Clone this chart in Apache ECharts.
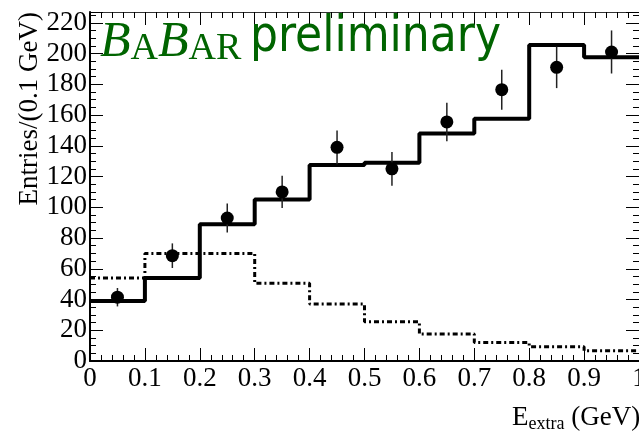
<!DOCTYPE html>
<html>
<head>
<meta charset="utf-8">
<script src="https://cdn.jsdelivr.net/npm/echarts@6/dist/echarts.min.js"></script>
<style>
  html, body { margin: 0; padding: 0; background: #fff; }
  #main { width: 639px; height: 435px; }
</style>
</head>
<body>
<div id="main"></div>
<script>
// bin edges of E_extra (GeV)
const binEdges = [0, 0.1, 0.2, 0.3, 0.4, 0.5, 0.6, 0.7, 0.8, 0.9, 1.0];
// total expectation (solid) and background (dash-dot), entries per bin
const mcTotal = [39, 54, 89, 105, 127.5, 129, 148, 157.5, 205.5, 197.5];
const mcBkg = [54, 70, 70, 50.5, 37, 25.5, 17.5, 12, 9.3, 6.7];
// data points
const dataX = [0.05, 0.15, 0.25, 0.35, 0.45, 0.55, 0.65, 0.75, 0.85, 0.95];
const dataY = [41.5, 68.5, 93, 110, 139, 125, 155.5, 176.5, 191, 201];
const dataErr = [6, 8, 9.5, 10.5, 11, 11, 12.5, 13, 13.5, 14];

const serif = 'Liberation Serif';

function stepData(vals) {
    return binEdges.map(function (e, i) {
        return [e, vals[Math.min(i, vals.length - 1)]];
    });
}

var chart = echarts.init(document.getElementById('main'));

var xBase = {
    type: 'value', min: 0, max: 1, interval: 0.1,
    splitLine: { show: false },
    axisTick: { inside: true, length: 13, lineStyle: { color: '#000', width: 1 } },
    minorTick: { show: true, splitNumber: 5, length: 6, lineStyle: { color: '#000', width: 1 } }
};
var yBase = {
    type: 'value', min: 0, max: 227, interval: 20,
    splitLine: { show: false },
    axisTick: { inside: true, length: 13, lineStyle: { color: '#000', width: 1 } },
    minorTick: { show: true, splitNumber: 4, length: 6, lineStyle: { color: '#000', width: 1 } }
};

var option = {
    animation: false,
    grid: { left: 90, right: 0, top: 12, bottom: 74, containLabel: false, outerBoundsMode: 'none' },
    xAxis: [
        Object.assign({}, xBase, {
            position: 'bottom',
            axisLine: { onZero: false, lineStyle: { color: '#000', width: 2 } },
            axisLabel: {
                margin: 4, color: '#000', fontFamily: serif, fontSize: 27,
                formatter: function (v) { return String(Math.round(v * 10) / 10); }
            }
        }),
        Object.assign({}, xBase, {
            position: 'top',
            axisLine: { onZero: false, lineStyle: { color: '#333', width: 1 } },
            axisLabel: { show: false }
        })
    ],
    yAxis: [
        Object.assign({}, yBase, {
            position: 'left',
            axisLine: { show: true, onZero: false, lineStyle: { color: '#000', width: 2 } },
            axisLabel: {
                margin: 3, color: '#000', fontFamily: serif, fontSize: 27,
                showMaxLabel: false
            }
        }),
        Object.assign({}, yBase, {
            position: 'right',
            axisLine: { show: true, onZero: false, lineStyle: { color: '#333', width: 1 } },
            axisLabel: { show: false }
        })
    ],
    series: [
        {
            name: 'background',
            type: 'line',
            step: 'end',
            data: stepData(mcBkg),
            symbol: 'none',
            lineStyle: { color: '#000', width: 3, type: [5, 3, 2, 3] },
            z: 2
        },
        {
            name: 'total',
            type: 'line',
            step: 'end',
            data: stepData(mcTotal),
            symbol: 'none',
            lineStyle: { color: '#000', width: 4 },
            z: 3
        },
        {
            name: 'errors',
            type: 'custom',
            data: dataX.map(function (x, i) { return [x, dataY[i] - dataErr[i], dataY[i] + dataErr[i]]; }),
            renderItem: function (params, api) {
                var lo = api.coord([api.value(0), api.value(1)]);
                var hi = api.coord([api.value(0), api.value(2)]);
                return {
                    type: 'line',
                    shape: { x1: lo[0], y1: lo[1], x2: hi[0], y2: hi[1] },
                    style: { stroke: '#222', lineWidth: 1.5 }
                };
            },
            z: 4
        },
        {
            name: 'data',
            type: 'scatter',
            data: dataX.map(function (x, i) { return [x, dataY[i]]; }),
            symbol: 'circle',
            symbolSize: 13,
            itemStyle: { color: '#000', opacity: 1 },
            z: 5
        }
    ],
    graphic: [
        {
            type: 'text', left: 100, top: 18, z: 10,
            style: {
                text: '{b|B}{s|A}{b|B}{s|AR}',
                rich: {
                    b: { fontFamily: serif, fontStyle: 'italic', fontSize: 50, fill: '#006400', verticalAlign: 'bottom' },
                    s: { fontFamily: serif, fontSize: 38, fill: '#006400', verticalAlign: 'bottom' }
                }
            }
        },
        {
            type: 'text', left: 250, top: 14, z: 10,
            style: {
                text: 'preliminary',
                fontFamily: 'DejaVu Sans Condensed, DejaVu Sans',
                fontSize: 49,
                fill: '#006400'
            }
        },
        {
            type: 'text', x: 30, y: 12, rotation: Math.PI / 2, z: 10,
            style: {
                text: 'Entries/(0.1 GeV)',
                fontFamily: serif, fontSize: 27, fill: '#000',
                align: 'right', verticalAlign: 'middle'
            }
        },
        {
            type: 'text', left: 512, top: 404, z: 10,
            style: {
                text: '{m|E}{sub|extra}{m| (GeV)}',
                rich: {
                    m: { fontFamily: serif, fontSize: 27, fill: '#000' },
                    sub: { fontFamily: serif, fontSize: 18, fill: '#000', padding: [14, 0, 0, 0] }
                }
            }
        }
    ]
};
chart.setOption(option);
</script>
</body>
</html>
